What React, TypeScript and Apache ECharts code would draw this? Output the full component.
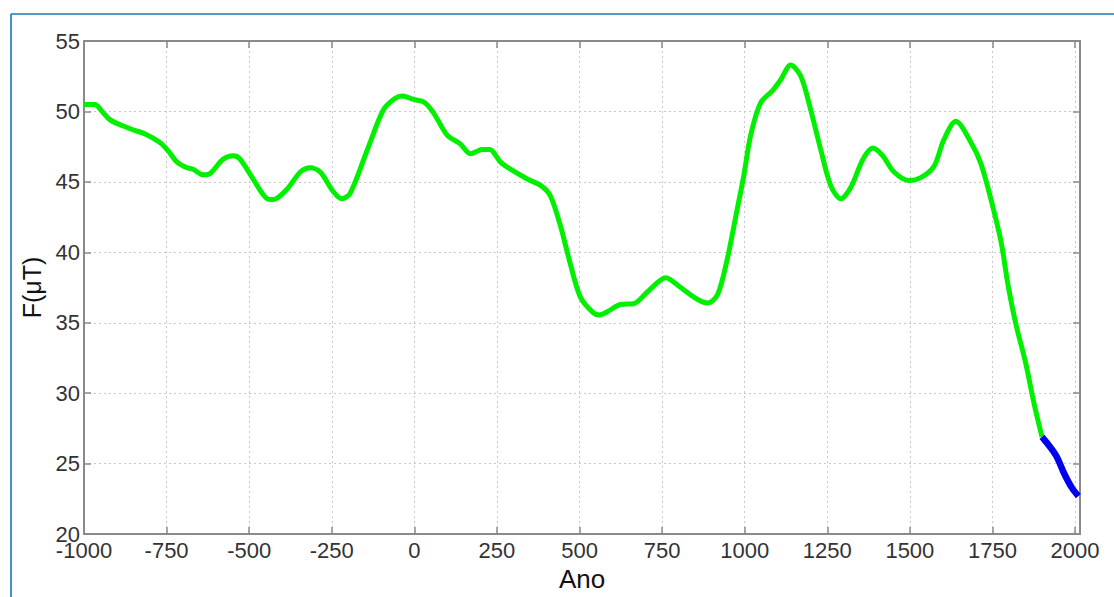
import React, { useEffect, useRef } from "react";
import * as echarts from "echarts";

const greenYears = [
  -1000, -967, -945, -921, -885, -852, -815, -770, -745, -718, -688, -670, -639, -618,
  -579, -548, -527, -488, -445, -427, -385, -345, -315, -285, -245, -220, -194, -142,
  -94, -60, -36, -3, 30, 58, 100, 139, 170, 206, 228, 261, 291, 342, 385, 412, 442,
  473, 503, 542, 560, 585, 624, 664, 706, 761, 806, 858, 888, 918, 948, 976, 997,
  1018, 1048, 1085, 1109, 1139, 1170, 1200, 1230, 1261, 1291, 1321, 1358, 1388, 1418,
  1452, 1497, 1533, 1573, 1603, 1639, 1685, 1715, 1745, 1776, 1797, 1821, 1851, 1876,
  1900,
];
const greenValues = [
  50.5, 50.5, 50.0, 49.4, 49.0, 48.7, 48.4, 47.8, 47.2, 46.4, 46.0, 45.9, 45.5, 45.6,
  46.6, 46.85, 46.6, 45.2, 43.8, 43.75, 44.5, 45.7, 46.0, 45.7, 44.3, 43.8, 44.2, 47.3,
  50.1, 50.9, 51.1, 50.85, 50.65, 49.9, 48.3, 47.7, 47.0, 47.3, 47.3, 46.4, 45.9, 45.2,
  44.7, 44.0, 41.9, 39.1, 36.8, 35.7, 35.55, 35.8, 36.3, 36.35, 37.2, 38.2, 37.5, 36.65,
  36.4, 37.0, 39.6, 42.9, 45.4, 48.3, 50.6, 51.5, 52.25, 53.3, 52.5, 50.1, 47.3, 44.7,
  43.8, 44.6, 46.6, 47.4, 46.85, 45.7, 45.1, 45.3, 46.1, 48.0, 49.3, 47.8, 46.3, 43.8,
  40.75, 37.7, 34.9, 32.1, 29.25, 26.9,
];
const blueYears = [1900, 1942, 1967, 1990, 2010];
const blueValues = [26.9, 25.6, 24.3, 23.3, 22.7];

const xTicksStep = 250;
const xMin = -1000;
const xMax = 2015;
const yMin = 20;
const yMax = 55;
const yStep = 5;

const labelColor = "#333333";
const axisGray = "#8a8a8a";
const font = "'Liberation Sans', Arial, sans-serif";

export default function App() {
  const ref = useRef<HTMLDivElement>(null);
  useEffect(() => {
    if (!ref.current) return;
    const chart = echarts.init(ref.current, null, { renderer: "svg" });
    const green = greenYears.map((y, i) => [y, greenValues[i]]);
    const blue = blueYears.map((y, i) => [y, blueValues[i]]);
    const xLabel = (v: number) => (v % xTicksStep === 0 ? String(v) : "");
    const yLabel = (v: number) => (v % yStep === 0 ? String(v) : "");
    chart.setOption({
      animation: false,
      backgroundColor: "#ffffff",
      grid: { left: 84, top: 41, right: 34, bottom: 59, containLabel: false },
      graphic: [
        {
          type: "line",
          shape: { x1: 11, y1: 14, x2: 11, y2: 597 },
          style: { stroke: "#1f76b8", lineWidth: 1.6 },
        },
        {
          type: "line",
          shape: { x1: 11, y1: 14, x2: 1114, y2: 14 },
          style: { stroke: "#1f76b8", lineWidth: 1.6 },
        },
      ],
      xAxis: [
        {
          type: "value",
          min: xMin,
          max: xMax,
          interval: xTicksStep,
          position: "bottom",
          name: "Ano",
          nameLocation: "middle",
          nameGap: 26,
          nameTextStyle: { color: "#111", fontSize: 26, fontFamily: font },
          axisLine: { show: true, onZero: false, lineStyle: { color: axisGray, width: 2 } },
          axisTick: { show: true, inside: true, length: 7, lineStyle: { color: axisGray, width: 1.5 } },
          axisLabel: {
            color: labelColor,
            fontSize: 22,
            lineHeight: 16,
            fontFamily: font,
            margin: 8,
            formatter: xLabel,
          },
          splitLine: { show: true, lineStyle: { color: "#c8c8c8", type: [2, 3], width: 1 } },
        },
        {
          type: "value",
          min: xMin,
          max: xMax,
          interval: xTicksStep,
          position: "top",
          axisLine: { show: true, onZero: false, lineStyle: { color: axisGray, width: 2 } },
          axisTick: { show: true, inside: true, length: 7, lineStyle: { color: axisGray, width: 1.5 } },
          axisLabel: { show: false },
          splitLine: { show: false },
        },
      ],
      yAxis: [
        {
          type: "value",
          min: yMin,
          max: yMax,
          interval: yStep,
          position: "left",
          name: "F(μT)",
          nameLocation: "middle",
          nameGap: 34,
          nameTextStyle: { color: "#111", fontSize: 25, fontFamily: font },
          axisLine: { show: true, onZero: false, lineStyle: { color: axisGray, width: 2 } },
          axisTick: { show: true, inside: true, length: 7, lineStyle: { color: axisGray, width: 1.5 } },
          axisLabel: {
            color: labelColor,
            fontSize: 22,
            lineHeight: 16,
            fontFamily: font,
            margin: 4,
            formatter: yLabel,
          },
          splitLine: { show: true, lineStyle: { color: "#c8c8c8", type: [2, 3], width: 1 } },
        },
        {
          type: "value",
          min: yMin,
          max: yMax,
          interval: yStep,
          position: "right",
          axisLine: { show: true, onZero: false, lineStyle: { color: axisGray, width: 2 } },
          axisTick: { show: true, inside: true, length: 7, lineStyle: { color: axisGray, width: 1.5 } },
          axisLabel: { show: false },
          splitLine: { show: false },
        },
      ],
      series: [
        {
          type: "line",
          data: green,
          xAxisIndex: 0,
          yAxisIndex: 0,
          showSymbol: false,
          smooth: 0.3,
          lineStyle: { color: "#00f000", width: 5 },
          z: 3,
        },
        {
          type: "line",
          data: blue,
          xAxisIndex: 0,
          yAxisIndex: 0,
          showSymbol: false,
          smooth: 0.3,
          lineStyle: { color: "#0000f0", width: 6.5 },
          z: 4,
        },
      ],
    });
    return () => chart.dispose();
  }, []);
  return (
    <div
      ref={ref}
      style={{ position: "fixed", left: 0, top: 0, width: 1114, height: 597, background: "#fff" }}
    />
  );
}
